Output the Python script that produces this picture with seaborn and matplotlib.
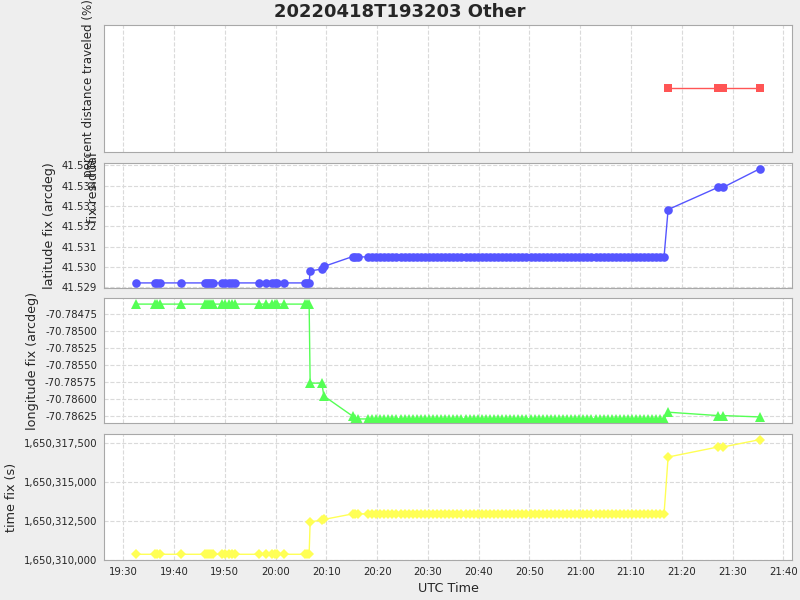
## Position report summary chart (4 stacked panels)

import numpy as np
import pandas as pd
import matplotlib
matplotlib.use('Agg')
import matplotlib.pyplot as plt
import matplotlib.dates as mdates
from matplotlib.ticker import FuncFormatter, FormatStrFormatter
import seaborn as sns

sns.set_style('white')
plt.rcParams['font.family'] = ['DejaVu Sans']

# report times, minutes after 19:30 UTC, grouped by the fix they carry
early_min = [2.6, 6.2, 6.6, 7.2, 11.4, 16.1, 16.5, 16.9, 17.3, 17.7, 19.4, 20.0,
             20.8, 21.4, 22.0, 26.7, 28.1, 29.3, 29.9, 30.3, 31.7, 35.8, 36.2, 36.6]
dense_min = [45.7, 46.2,
             48.2, 49.0, 49.8, 50.6, 51.4, 52.2, 53.0, 53.8, 54.6, 55.4, 56.2, 57.0,
             57.8, 58.6, 59.4, 60.2, 61.0, 61.8, 62.6, 63.4, 64.2, 65.0, 65.8, 66.6,
             67.4, 68.2, 69.0, 69.8, 70.6, 71.4, 72.2, 73.0, 73.8, 74.6, 75.4, 76.2,
             77.0, 77.8, 78.6, 79.4, 80.2, 81.0, 81.8, 82.6, 83.4, 84.2, 85.0, 85.8,
             86.6, 87.4, 88.2, 89.0, 89.8, 90.6, 91.4, 92.2, 93.0, 93.8, 94.6, 95.4,
             96.2, 97.0, 97.8, 98.6, 99.4, 100.2, 101.0, 101.8, 102.6, 103.4, 104.2,
             105.0, 105.8, 106.5]
fix_times = [early_min, [36.8], [39.1], [39.5], [45.2], dense_min,
             [107.3], [117.1, 118.1], [125.3]]
fix_lat = [41.52922, 41.52981, 41.52990, 41.53003, 41.53052, 41.53050,
           41.53283, 41.53392, 41.53483]
fix_lon = [-70.78460, -70.78577, -70.78577, -70.78596, -70.78626, -70.78630,
           -70.78620, -70.78625, -70.78627]
fix_tfix = [1650310366, 1650312440, 1650312560, 1650312600, 1650312956, 1650312956,
            1650316600, 1650317243, 1650317712]

pct_min = [107.3, 117.1, 118.1, 125.3]
pct_val = [0, 0, 0, 0]

base = pd.Timestamp('2022-04-18 19:30:00')

rows = []
for times, la, lo, tf in zip(fix_times, fix_lat, fix_lon, fix_tfix):
    for m in times:
        rows.append({'t': base + pd.Timedelta(minutes=m), 'lat': la, 'lon': lo, 'tfix': tf})
df = pd.DataFrame(rows).sort_values('t')
pct = pd.DataFrame({'t': [base + pd.Timedelta(minutes=m) for m in pct_min], 'pct': pct_val})

fig = plt.figure(figsize=(8, 6), dpi=100, facecolor='#EEEEEE')
boxes = [[0.13, 0.7467, 0.86, 0.2117],
         [0.13, 0.52, 0.86, 0.2083],
         [0.13, 0.295, 0.86, 0.2083],
         [0.13, 0.0667, 0.86, 0.21]]
axes = []
for i, b in enumerate(boxes):
    ax = fig.add_axes(b, sharex=axes[0] if axes else None)
    axes.append(ax)

line_kw = dict(estimator=None, sort=False, linewidth=1, markeredgewidth=0)

sns.lineplot(data=pct, x='t', y='pct', ax=axes[0], color='#FF5555', marker='s', markersize=5.5, **line_kw)
sns.lineplot(data=df, x='t', y='lat', ax=axes[1], color='#5555FF', marker='o', markersize=6.2, **line_kw)
sns.lineplot(data=df, x='t', y='lon', ax=axes[2], color='#55FF55', marker='^', markersize=7, **line_kw)
sns.lineplot(data=df, x='t', y='tfix', ax=axes[3], color='#FFFF55', marker='D', markersize=5, **line_kw)

axes[0].set_ylim(-1, 1)
axes[0].set_yticks([])
axes[1].set_ylim(41.52897, 41.53512)
axes[1].set_yticks([41.529, 41.530, 41.531, 41.532, 41.533, 41.534, 41.535])
axes[1].yaxis.set_major_formatter(FormatStrFormatter('%.3f'))
axes[2].set_ylim(-70.78636, -70.78451)
axes[2].set_yticks([-70.78625, -70.78600, -70.78575, -70.78550, -70.78525, -70.78500, -70.78475])
axes[2].yaxis.set_major_formatter(FormatStrFormatter('%.5f'))
axes[3].set_ylim(1650310000, 1650318078)
axes[3].set_yticks([1650310000, 1650312500, 1650315000, 1650317500])
axes[3].yaxis.set_major_formatter(FuncFormatter(lambda v, p: '{:,.0f}'.format(v)))

ylabels = ['percent distance traveled (%)', 'latitude fix (arcdeg)',
           'longitude fix (arcdeg)', 'time fix (s)']
for ax, lab in zip(axes, ylabels):
    ax.set_facecolor('white')
    for s in ax.spines.values():
        s.set_color('#A8A8A8')
    ax.grid(True, linestyle='--', color='#DADADA', linewidth=0.8)
    ax.set_axisbelow(True)
    ax.set_ylabel(lab, fontsize=9.2, labelpad=4)
    ax.set_xlabel('')
    ax.tick_params(axis='both', labelsize=7.3, length=3, pad=2, color='#888888', direction='out')
axes[0].grid(False, axis='y')
axes[0].set_ylabel(ylabels[0], fontsize=8.6)
axes[0].yaxis.set_label_coords(-0.013, 0.5)

axes[3].set_xlim(base + pd.Timedelta(minutes=-3.8), base + pd.Timedelta(minutes=131.7))
axes[3].xaxis.set_major_locator(mdates.MinuteLocator(byminute=range(0, 60, 10)))
axes[3].xaxis.set_major_formatter(mdates.DateFormatter('%H:%M'))
axes[3].set_xlabel('UTC Time', fontsize=9.2)
for ax in axes[:3]:
    plt.setp(ax.get_xticklabels(), visible=False)
    ax.tick_params(axis='x', length=0)

fig.text(0.117, 0.687, 'fix residual', rotation=90, ha='center', va='center', fontsize=9.2)
fig.text(0.5, 0.98, '20220418T193203 Other', ha='center', va='center',
         fontsize=13, fontweight='bold')

plt.savefig('out.png', dpi=100, facecolor=fig.get_facecolor())
